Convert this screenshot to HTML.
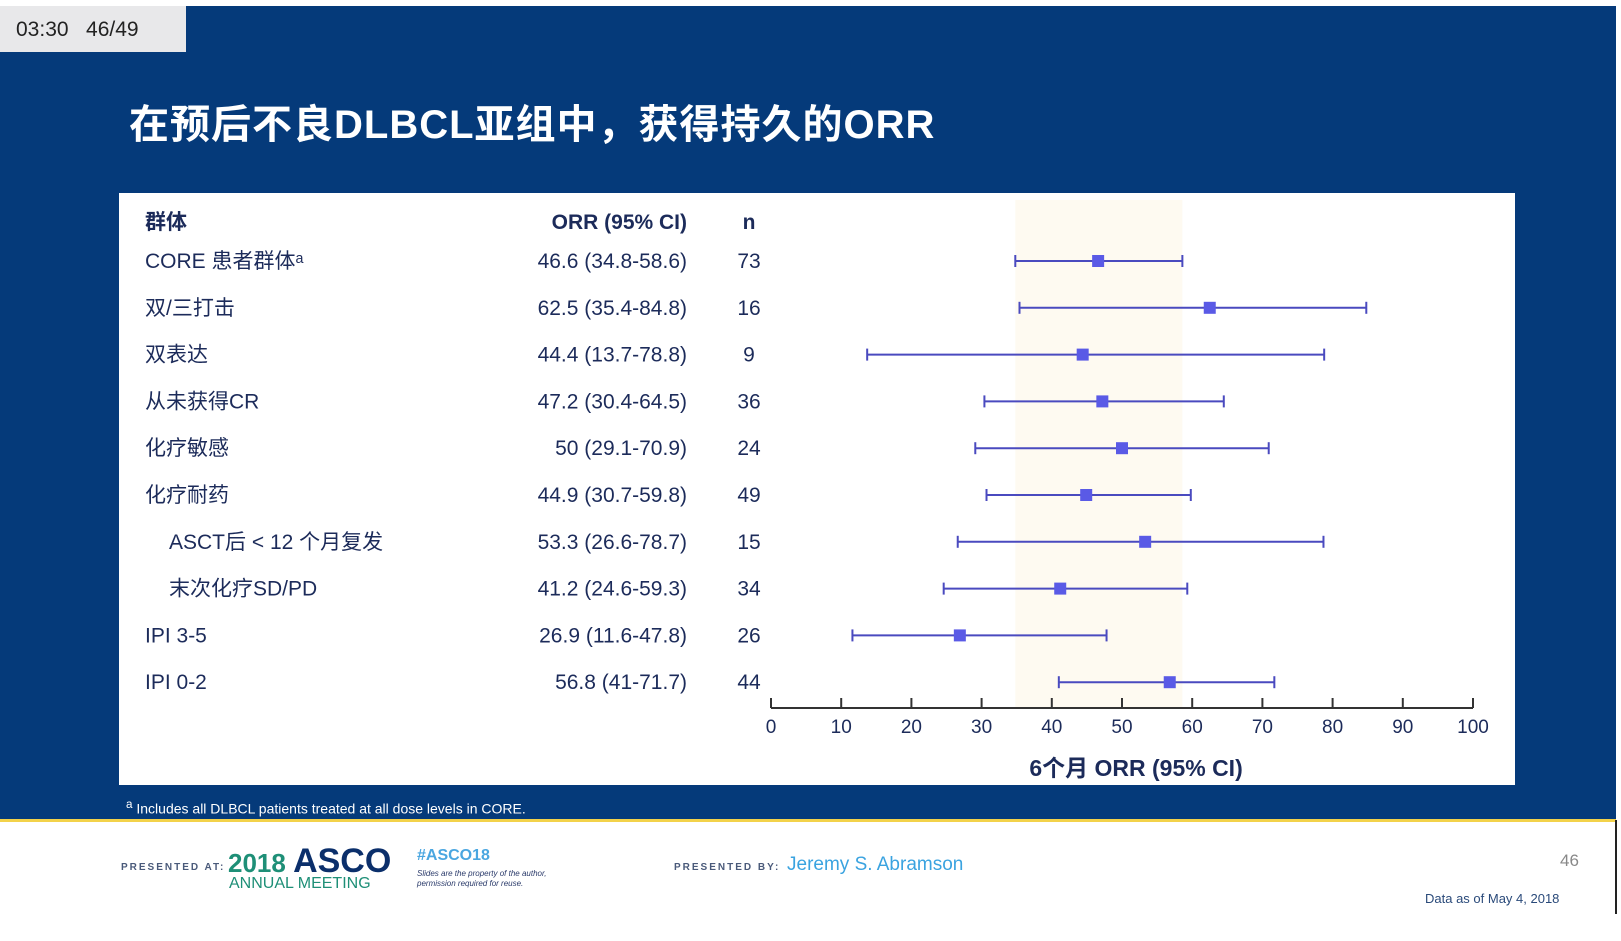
<!DOCTYPE html>
<html><head><meta charset="utf-8"><style>
body{margin:0;width:1621px;height:941px;background:#fff;position:relative;overflow:hidden;font-family:"Liberation Sans","Noto Sans CJK SC",sans-serif;}
.abs{position:absolute;}
#bg{left:0;top:6px;width:1616px;height:814px;background:#053a7a;}
#timer{left:0;top:6px;width:186px;height:46px;background:#e8e8ea;color:#222;font-size:21px;line-height:48px;padding-left:16px;box-sizing:border-box;}
#title{left:129px;top:92px;color:#fff;font-size:40px;font-weight:bold;letter-spacing:1px;white-space:nowrap;}
#panel{left:119px;top:193px;width:1396px;height:592px;background:#fff;}
#yel{left:0;top:819px;width:1616px;height:3px;background:#f3d24a;}
#foot{left:126px;top:798px;color:#fff;font-size:14px;}
</style></head><body>
<div id="bg" class="abs"></div>
<div id="timer" class="abs">03:30&nbsp;&nbsp; 46/49</div>
<div id="title" class="abs">在预后不良DLBCL亚组中，获得持久的ORR</div>
<div id="panel" class="abs"></div>
<svg class="abs" style="left:0;top:0" width="1621" height="941" id="plot"></svg>
<div id="foot" class="abs"><sup>a</sup> Includes all DLBCL patients treated at all dose levels in CORE.</div>
<div id="yel" class="abs"></div>
<div class="abs" style="left:121px;top:862px;font-size:10px;letter-spacing:2px;color:#4a5a7a;font-weight:bold">PRESENTED AT:</div>
<div class="abs" style="left:228px;top:842px;font-size:26px;color:#1e8f77;font-weight:bold">2018 <span style="color:#0b2f6b;font-size:34px">ASCO</span></div>
<div class="abs" style="left:229px;top:875px;font-size:16px;color:#1e8f77">ANNUAL MEETING</div>
<div class="abs" style="left:417px;top:847px;font-size:16px;color:#4aa6e0;font-weight:bold">#ASCO18</div>
<div class="abs" style="left:417px;top:869px;font-size:8px;color:#2a3a6a;font-style:italic;line-height:10px">Slides are the property of the author,<br>permission required for reuse.</div>
<div class="abs" style="left:674px;top:862px;font-size:10px;letter-spacing:2px;color:#4a5a7a;font-weight:bold">PRESENTED BY:</div>
<div class="abs" style="left:787px;top:854px;font-size:19px;color:#3aa3e0">Jeremy S. Abramson</div>
<div class="abs" style="left:1560px;top:851px;font-size:17px;color:#888">46</div>
<div class="abs" style="left:1425px;top:891px;font-size:13px;color:#2a4a7a">Data as of May 4, 2018</div>
<div class="abs" style="left:1615px;top:820px;width:2px;height:94px;background:#222"></div>
<script>
const labels=["CORE 患者群体ᵃ","双/三打击","双表达","从未获得CR","化疗敏感","化疗耐药","ASCT后 < 12 个月复发","末次化疗SD/PD","IPI 3-5","IPI 0-2"];
const indent=[0,0,0,0,0,0,1,1,0,0];
const orr=[46.6,62.5,44.4,47.2,50,44.9,53.3,41.2,26.9,56.8];
const lo=[34.8,35.4,13.7,30.4,29.1,30.7,26.6,24.6,11.6,41];
const hi=[58.6,84.8,78.8,64.5,70.9,59.8,78.7,59.3,47.8,71.7];
const ns=[73,16,9,36,24,49,15,34,26,44];
const ticks=[0,10,20,30,40,50,60,70,80,90,100];
const svg=document.getElementById('plot');const NS='http://www.w3.org/2000/svg';
const x=v=>771+v*7.02;
const y=i=>261+i*46.8;
function mk(t,a){const e=document.createElementNS(NS,t);for(const k in a)e.setAttribute(k,a[k]);svg.appendChild(e);return e;}
function tx(s,a){const e=mk('text',Object.assign({fill:'#1c2b5a','font-size':21,'font-family':'"Liberation Sans","Noto Sans CJK SC",sans-serif'},a));e.textContent=s;return e;}
const band=mk('rect',{x:x(lo[0]),y:200,width:x(hi[0])-x(lo[0]),height:508,fill:'#fefaf1'});


let h=tx('群体',{x:145,y:229,'font-weight':'bold'});


h=tx('ORR (95% CI)',{x:687,y:229,'font-weight':'bold','text-anchor':'end'});


h=tx('n',{x:749,y:229,'font-weight':'bold','text-anchor':'middle'});


labels.forEach((l,i)=>{
 const yy=y(i);
 let e=tx(l,{x:145+indent[i]*24,y:yy+7});
 
 
 e=tx(orr[i]+' ('+lo[i]+'-'+hi[i]+')',{x:687,y:yy+7,'text-anchor':'end'});
 
 
 e=tx(ns[i],{x:749,y:yy+7,'text-anchor':'middle'});
 
 
 const g=mk('g',{stroke:'#4a4abf','stroke-width':2});
 
 
 [['line',{x1:x(lo[i]),x2:x(hi[i]),y1:yy,y2:yy}],['line',{x1:x(lo[i]),x2:x(lo[i]),y1:yy-6,y2:yy+6}],['line',{x1:x(hi[i]),x2:x(hi[i]),y1:yy-6,y2:yy+6}]].forEach(([t,a])=>{const l2=mk(t,a);g.appendChild(l2);});
 const sq=mk('rect',{x:x(orr[i])-6,y:yy-6,width:12,height:12,fill:'#5a5ae6'});
 
 
});
const ax=mk('line',{x1:x(0),x2:x(100),y1:708,y2:708,stroke:'#333','stroke-width':2});


ticks.forEach(t=>{
 const l=mk('line',{x1:x(t),x2:x(t),y1:708,y2:698,stroke:'#333','stroke-width':2});
 
 
 const e=tx(t,{x:x(t),y:733,'text-anchor':'middle','font-size':19});
 
 
});
const at=tx('6个月 ORR (95% CI)',{x:x(52),y:776,'text-anchor':'middle','font-weight':'bold','font-size':23});


</script>
</body></html>
